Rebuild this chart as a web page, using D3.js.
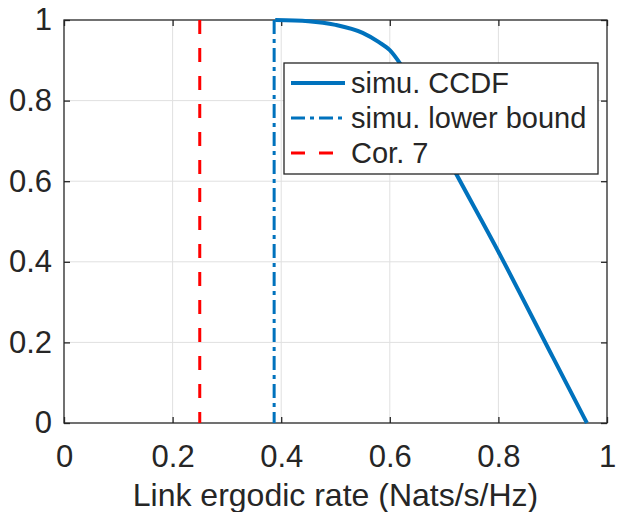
<!DOCTYPE html>
<html lang="en">
<head>
	<meta charset="utf-8">
	<title>Link ergodic rate CCDF</title>
	<script src="https://d3js.org/d3.v7.min.js"></script>
	<style>
		body { margin: 0; background: #fff; }
		text { font-family: "Liberation Sans", Arial, Helvetica, sans-serif; fill: #262626; }
	</style>
</head>
<body>
	<div id="chart"></div>
	<script>
		// data
		var rateX = [0.389, 0.45, 0.50, 0.55, 0.58, 0.60, 0.62, 0.70, 0.80, 0.90, 0.963];
		var ccdfY = [1.0, 0.997, 0.988, 0.968, 0.945, 0.925, 0.89, 0.675, 0.425, 0.164, 0.0];
		var lowerBoundX = 0.387;
		var corX = 0.25;
		var xTicks = [0, 0.2, 0.4, 0.6, 0.8, 1];
		var yTicks = [0, 0.2, 0.4, 0.6, 0.8, 1];
		var legendLabels = ["simu. CCDF", "simu. lower bound", "Cor. 7"];

		var width = 626, height = 512;
		// plot box in pixels
		var pLeft = 64, pRight = 607, pTop = 20, pBottom = 423;
		var blue = "#0072BD", red = "#FF0000", axisCol = "#262626";

		var svg = d3.select("#chart").append("svg")
			.attr("width", width)
			.attr("height", height);

		var x = d3.scaleLinear().domain([0, 1]).range([pLeft, pRight]);
		var y = d3.scaleLinear().domain([0, 1]).range([pBottom, pTop]);

		// grid
		var grid = svg.append("g").attr("stroke", "#e0e0e0").attr("stroke-width", 1);
		grid.selectAll("line.gx").data(xTicks.slice(1, -1)).enter().append("line")
			.attr("x1", d => x(d)).attr("x2", d => x(d))
			.attr("y1", pTop).attr("y2", pBottom);
		grid.selectAll("line.gy").data(yTicks.slice(1, -1)).enter().append("line")
			.attr("y1", d => y(d)).attr("y2", d => y(d))
			.attr("x1", pLeft).attr("x2", pRight);

		// axes (ticks pointing inward, matlab style)
		function styleAxis(g) {
			g.select(".domain").remove();
			g.selectAll(".tick line").attr("stroke", axisCol).attr("stroke-width", 1.3);
			g.selectAll(".tick text").attr("fill", axisCol).style("font-size", "31px");
		}
		svg.append("g")
			.attr("transform", "translate(0," + pBottom + ")")
			.call(d3.axisBottom(x).tickValues(xTicks).tickFormat(d3.format("")).tickSizeInner(-6).tickSizeOuter(0).tickPadding(22))
			.call(styleAxis);
		svg.append("g")
			.attr("transform", "translate(0," + pTop + ")")
			.call(d3.axisTop(x).tickValues(xTicks).tickFormat("").tickSizeInner(-6).tickSizeOuter(0))
			.call(styleAxis);
		svg.append("g")
			.attr("transform", "translate(" + pLeft + ",0)")
			.call(d3.axisLeft(y).tickValues(yTicks).tickFormat(d3.format("")).tickSizeInner(-6).tickSizeOuter(0).tickPadding(12))
			.call(styleAxis);
		svg.append("g")
			.attr("transform", "translate(" + pRight + ",0)")
			.call(d3.axisRight(y).tickValues(yTicks).tickFormat("").tickSizeInner(-6).tickSizeOuter(0))
			.call(styleAxis);

		svg.append("rect")
			.attr("x", pLeft).attr("y", pTop)
			.attr("width", pRight - pLeft).attr("height", pBottom - pTop)
			.attr("fill", "none").attr("stroke", axisCol).attr("stroke-width", 1.3);

		// data lines
		var ccdf = rateX.map(function(d, i) { return [d, ccdfY[i]]; });
		svg.append("path")
			.datum(ccdf)
			.attr("fill", "none")
			.attr("stroke", blue)
			.attr("stroke-width", 4)
			.attr("d", d3.line().curve(d3.curveMonotoneX).x(d => x(d[0])).y(d => y(d[1])));

		svg.append("line")
			.attr("x1", x(lowerBoundX)).attr("x2", x(lowerBoundX))
			.attr("y1", y(1)).attr("y2", y(0))
			.attr("stroke", blue).attr("stroke-width", 3)
			.attr("stroke-dasharray", "14,5,4,5");

		svg.append("line")
			.attr("x1", x(corX)).attr("x2", x(corX))
			.attr("y1", y(1)).attr("y2", y(0))
			.attr("stroke", red).attr("stroke-width", 3)
			.attr("stroke-dasharray", "14,14");

		// x label
		svg.append("text")
			.attr("x", (pLeft + pRight) / 2)
			.attr("y", 506)
			.attr("text-anchor", "middle")
			.style("font-size", "32px")
			.text("Link ergodic rate (Nats/s/Hz)");

		// legend
		var legend = svg.append("g");
		legend.append("rect")
			.attr("x", 284).attr("y", 63)
			.attr("width", 314).attr("height", 111)
			.attr("fill", "#fff").attr("stroke", axisCol).attr("stroke-width", 1.3);
		var rows = [
			{ label: legendLabels[0], color: blue, dash: null, w: 4 },
			{ label: legendLabels[1], color: blue, dash: "14,5,4,5", w: 3 },
			{ label: legendLabels[2], color: red, dash: "14,14", w: 3 }
		];
		var rowY = d3.scalePoint().domain(legendLabels).range([83, 153]);
		var item = legend.selectAll("g.item").data(rows).enter().append("g")
			.attr("class", "item")
			.attr("transform", d => "translate(0," + rowY(d.label) + ")");
		item.append("line")
			.attr("x1", 291).attr("x2", 345)
			.attr("stroke", d => d.color)
			.attr("stroke-width", d => d.w)
			.attr("stroke-dasharray", d => d.dash);
		item.append("text")
			.attr("x", 351)
			.attr("dy", "0.36em")
			.style("font-size", "29px")
			.text(d => d.label);
	</script>
</body>
</html>
